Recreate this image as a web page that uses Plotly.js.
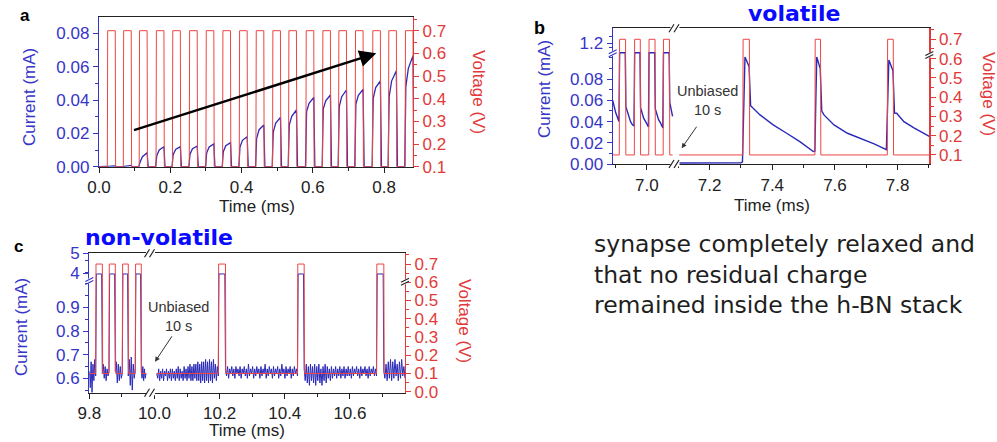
<!DOCTYPE html>
<html><head><meta charset="utf-8">
<script src="https://cdn.plot.ly/plotly-3.0.1.min.js"></script>
<style>html,body{margin:0;padding:0;background:#fff}#chart{width:997px;height:442px}</style>
</head><body><div id="chart"></div>
<script>
// ---------------- Panel a data ----------------
const aPulseOn = [0.0234,0.0682,0.1128,0.1600,0.2060,0.2533,0.3000,0.3467,0.3935,0.4402,0.4869,0.5318,0.5804,0.6271,0.6720,0.7187,0.7673,0.8121,0.8589];
const aPulseWidth = 0.0222;
const aStartI = [0,0,0.0025,0.0065,0.0072,0.0075,0.0082,0.0090,0.0118,0.0168,0.0208,0.0250,0.0330,0.0345,0.0360,0.0375,0.0410,0.0420,0.0480];
const aKneeI  = [0.0003,0.0004,0.0060,0.0100,0.0104,0.0108,0.0118,0.0126,0.0158,0.0222,0.0262,0.0302,0.0380,0.0395,0.0420,0.0428,0.0475,0.0515,0.0590];
const aPeakI  = [0.0005,0.0008,0.0084,0.0120,0.0120,0.0124,0.0136,0.0144,0.0180,0.0250,0.0296,0.0340,0.0416,0.0430,0.0460,0.0464,0.0514,0.0576,0.0666];
const aVLow = 0.1, aVHigh = 0.7;
const aTimeEnd = 0.881;

// ---------------- Panel b data ----------------
const bPulseOn  = [6.912,6.960,7.006,7.052,7.306,7.536,7.767];
const bPulseOff = [6.932,6.979,7.026,7.072,7.327,7.554,7.786];
const bSegStart = [6.891,7.103];
const bSegEnd   = [7.082,7.901];
const bVLow = 0.1, bVHigh = 0.7;
const bCurT = [6.891,6.896,6.901,6.906,6.911, 6.913,6.931, 6.933,6.937,6.942,6.948,6.954,6.959, 6.961,6.978, 6.980,6.984,6.990,6.996,7.001,7.005, 7.007,7.025, 7.027,7.031,7.037,7.043,7.048,7.051, 7.053,7.071, 7.073,7.077,7.082, null,
  7.103,7.150,7.200,7.250,7.300,7.305, 7.309,7.313,7.326,7.331,7.361,7.403,7.446,7.488,7.531,7.536,
  7.539,7.542,7.553,7.558,7.565,7.597,7.640,7.682,7.725,7.764,
  7.768,7.772,7.785,7.790,7.797,7.820,7.852,7.884,7.901];
const bCurI = [0.060,0.053,0.048,0.044,0.040, 0.105,0.105, 0.054,0.050,0.044,0.040,0.037,0.036, 0.105,0.105, 0.053,0.049,0.043,0.040,0.037,0.035, 0.105,0.105, 0.052,0.047,0.042,0.039,0.036,0.034, 0.105,0.105, 0.058,0.052,0.045, null,
  0.001,0.0012,0.001,0.0014,0.0012,0.002, 0.060,0.101,0.092,0.055,0.0463,0.0369,0.029,0.0211,0.0117,0.012,
  0.060,0.101,0.090,0.050,0.0463,0.0369,0.029,0.0243,0.0189,0.0135,
  0.060,0.098,0.088,0.048,0.0479,0.040,0.034,0.029,0.026];

// ---------------- Panel c data ----------------
const cPulseOn  = [9.8196,9.8604,9.9012,9.9411,10.196,10.439,10.6816];
const cPulseOff = [9.840,9.8798,9.9196,9.9595,10.218,10.4595,10.704];
const cSegStart = [9.800,10.007];
const cSegEnd   = [9.974,10.769];
const cVLow = 0.1, cVHigh = 0.7;
const cPlateauI = 1.042;   // 4 mA level drawn above the axis break
const cNoise1 = [0.63,0.56,0.67,0.54,0.66,0.59,0.68,0.61];
const cNoise2 = [0.62,0.66,0.60,0.65,0.59,0.64,0.61,0.63];
const cNoise3 = [0.63,0.67,0.58,0.66,0.59,0.65,0.60,0.62];
const cNoise4 = [0.61,0.68,0.57,0.69,0.55,0.66,0.60,0.64];
const cNoise5 = [0.63,0.60,0.65,0.59,0.64,0.60,0.62];
const cNoise6 = [0.62,0.60,0.64,0.59,0.63,0.60,0.64,0.59,0.63,0.61,0.64,0.59,0.63,0.60,0.64,0.59,0.64,0.60,0.63,0.59,0.64,0.60,0.65,0.59,0.64,0.60,0.63,0.59,0.65,0.60,0.64,0.59,0.65,0.60,0.66,0.59,0.65,0.59,0.66,0.60,0.66,0.59,0.67,0.59,0.66,0.58,0.67,0.59,0.67,0.58,0.68,0.59,0.67,0.58,0.68,0.59,0.67,0.58,0.68,0.60,0.66,0.59,0.65,0.61];
const cNoise7 = [0.64,0.61,0.65,0.60,0.64,0.62,0.65,0.61,0.64,0.60,0.65,0.62,0.64,0.61,0.65,0.60,0.64,0.62,0.65,0.61,0.64,0.60,0.66,0.61,0.64,0.62,0.65,0.60,0.64,0.61,0.65,0.62,0.64,0.60,0.65,0.61,0.64,0.62,0.66,0.60,0.64,0.61,0.65,0.62,0.64,0.60,0.65,0.61,0.64,0.62,0.65,0.60,0.64,0.61,0.66,0.62,0.64,0.60,0.65,0.61,0.64,0.62,0.65,0.60,0.64,0.61,0.65,0.62,0.64,0.61];
const cNoise8 = [0.64,0.59,0.66,0.58,0.65,0.57,0.66,0.59,0.65,0.58,0.66,0.57,0.65,0.59,0.66,0.58,0.64,0.57,0.65,0.59,0.66,0.58,0.65,0.60,0.64,0.59,0.65,0.60,0.64,0.61,0.65,0.60,0.64,0.61,0.65,0.60,0.64,0.61,0.65,0.60,0.64,0.61,0.65,0.61,0.64,0.60,0.65,0.61,0.64,0.62,0.65,0.61,0.64,0.60,0.65,0.61,0.64,0.62,0.65,0.61,0.64,0.60,0.65,0.61,0.64,0.62,0.65,0.61,0.64,0.61];
const cNoise9 = [0.63,0.60,0.66,0.59,0.67,0.60,0.68,0.59,0.67,0.60,0.68,0.61,0.66,0.59,0.67,0.60,0.68,0.61,0.65,0.60];
const cNoise = [cNoise1,cNoise2,cNoise3,cNoise4,cNoise5,cNoise6,cNoise7,cNoise8,cNoise9];

// ---------------- Tick labels ----------------
const bCurTickVals = [0,0.02,0.04,0.06,0.08,0.114];
const bCurTickText = ['0.00','0.02','0.04','0.06','0.08','1.2'];
const cCurTickVals = [0.6,0.7,0.8,0.9,1.044,1.129];
const cCurTickText = ['0.6','0.7','0.8','0.9','4','5'];

// ---------------- build traces ----------------
const EDGE = 0.001;
function pulseVoltage(segS, segE, ons, offs, lo, hi){
  const x=[], y=[];
  segS.forEach((s,k)=>{
    if(k>0){x.push(null);y.push(null);}
    x.push(s); y.push(lo);
    ons.forEach((on,i)=>{ if(on>=s && on<segE[k]){ x.push(on,on+EDGE,offs[i],offs[i]+EDGE); y.push(lo,hi,hi,lo);} });
    x.push(segE[k]); y.push(lo);
  });
  return {x,y};
}
const aVx=[0], aVy=[aVLow];
aPulseOn.forEach(on=>{ aVx.push(on,on+EDGE,on+aPulseWidth,on+aPulseWidth+EDGE); aVy.push(aVLow,aVHigh,aVHigh,aVLow); });
aVx.push(aTimeEnd); aVy.push(aVLow);
const aIx=[0], aIy=[0];
aPulseOn.forEach((on,i)=>{ const off=on+aPulseWidth; aIx.push(on-0.001,on+0.002,on+0.009,off,off+0.003); aIy.push(0,aStartI[i],aKneeI[i],aPeakI[i],0); });
aIx.push(aTimeEnd); aIy.push(0);

const bV = pulseVoltage(bSegStart,bSegEnd,bPulseOn,bPulseOff,bVLow,bVHigh);
const cV = pulseVoltage(cSegStart,cSegEnd,cPulseOn,cPulseOff,cVLow,cVHigh);

const cIx=[], cIy=[];
let nIdx=0;
cSegStart.forEach((s,k)=>{
  if(k>0){cIx.push(null);cIy.push(null);}
  const ons=[], offs=[];
  cPulseOn.forEach((on,i)=>{ if(on>=s && on<cSegEnd[k]){ons.push(on);offs.push(cPulseOff[i]);} });
  const starts=[s].concat(offs), ends=ons.concat([cSegEnd[k]]);
  starts.forEach((a,j)=>{
    const b=ends[j], arr=cNoise[nIdx++];
    arr.forEach((v,m)=>{ cIx.push(a+(b-a)*m/(arr.length-1)); cIy.push(v); });
    if(j<ons.length){ cIx.push(ons[j]+0.002, offs[j]-0.002); cIy.push(cPlateauI,cPlateauI); }
  });
});

const BLUE='#2a2ab8', RED='#ee4444', TBLUE='#3535c8', TRED='#e23a3a', DARK='#222';
const traces = [
  {x:aIx,y:aIy,xaxis:'x',yaxis:'y',mode:'lines',line:{color:BLUE,width:1.3},name:'Current a'},
  {x:aVx,y:aVy,xaxis:'x',yaxis:'y2',mode:'lines',line:{color:RED,width:1},name:'Voltage a'},
  {x:bCurT,y:bCurI,xaxis:'x2',yaxis:'y3',mode:'lines',line:{color:BLUE,width:1.4},connectgaps:false,name:'Current b'},
  {x:bV.x,y:bV.y,xaxis:'x2',yaxis:'y4',mode:'lines',line:{color:RED,width:1},connectgaps:false,name:'Voltage b'},
  {x:cIx,y:cIy,xaxis:'x3',yaxis:'y5',mode:'lines',line:{color:BLUE,width:1},connectgaps:false,name:'Current c'},
  {x:cV.x,y:cV.y,xaxis:'x3',yaxis:'y6',mode:'lines',line:{color:RED,width:1},connectgaps:false,name:'Voltage c'}
];

// ---------------- layout ----------------
const W=997,H=442;
const px=v=>v/W, py=v=>1-v/H;
const FONT='Liberation Sans, Arial, sans-serif';
const TICKSIZE=17, TITLESIZE=17;
function xAx(dom, anchor, range, tick0){
  return {domain:[px(dom[0]),px(dom[1])], anchor, range, tick0, dtick:0.2, tickmode:'linear', tickformat:'.1f',
    showline:true, linecolor:DARK, linewidth:1.2, mirror:true, ticks:'outside', ticklen:5, tickcolor:DARK,
    showgrid:false, zeroline:false, tickfont:{family:FONT,size:TICKSIZE,color:DARK},
    minor:{ticks:'outside',ticklen:3,tickcolor:DARK,dtick:0.1,tick0:tick0,showgrid:false}};
}
function yLeft(dom, anchor, range, extra){
  return Object.assign({domain:[py(dom[1]),py(dom[0])], anchor, range, side:'left',
    showline:true, linecolor:TBLUE, linewidth:1.2, ticks:'outside', ticklen:5, tickcolor:TBLUE,
    showgrid:false, zeroline:false, tickfont:{family:FONT,size:TICKSIZE,color:TBLUE}}, extra);
}
function yRight(overlay, anchor, range){
  return {overlaying:overlay, anchor, range, side:'right', tickmode:'linear', tick0:0, dtick:0.1,
    showline:true, linecolor:TRED, linewidth:1.2, ticks:'outside', ticklen:5, tickcolor:TRED,
    showgrid:false, zeroline:false, tickformat:'.1f', tickfont:{family:FONT,size:TICKSIZE,color:TRED},
    minor:{ticks:'outside',ticklen:3,tickcolor:TRED,dtick:0.05,tick0:0,showgrid:false}};
}
const A_X=[99,413], A_Y=[17.3,166.7];
const B_X=[612.7,929.3], B_Y=[28.3,164];
const C_X=[89.3,405], C_Y=[253.3,392.7];

function xBreak(xc,yc){
  return [
    {type:'rect',xref:'paper',yref:'paper',x0:px(xc-4.5),x1:px(xc+4.5),y0:py(yc+2.5),y1:py(yc-2.5),fillcolor:'#fff',line:{width:0}},
    {type:'line',xref:'paper',yref:'paper',x0:px(xc-6),y0:py(yc+4),x1:px(xc-1),y1:py(yc-4),line:{color:DARK,width:1.2}},
    {type:'line',xref:'paper',yref:'paper',x0:px(xc-1),y0:py(yc+4),x1:px(xc+4),y1:py(yc-4),line:{color:DARK,width:1.2}}
  ];
}
function yBreak(xc,yc,col){
  return [
    {type:'rect',xref:'paper',yref:'paper',x0:px(xc-2),x1:px(xc+2),y0:py(yc+2.5),y1:py(yc-2.5),fillcolor:'#fff',line:{width:0}},
    {type:'line',xref:'paper',yref:'paper',x0:px(xc-4),y0:py(yc+0.5),x1:px(xc+4),y1:py(yc-3.5),line:{color:col,width:1.2}},
    {type:'line',xref:'paper',yref:'paper',x0:px(xc-4),y0:py(yc+3.5),x1:px(xc+4),y1:py(yc-0.5),line:{color:col,width:1.2}}
  ];
}
const shapes = [].concat(
  xBreak(675,B_Y[0]), xBreak(675,B_Y[1]), yBreak(B_X[0],53.3,TBLUE), yBreak(B_X[1],55,DARK),
  xBreak(150.5,C_Y[0]), xBreak(150.5,C_Y[1]), yBreak(C_X[0],281,TBLUE), yBreak(C_X[1],281.7,DARK)
);

function txt(text,x,y,opt){
  return Object.assign({text, xref:'paper', yref:'paper', x:px(x), y:py(y), xanchor:'center', yanchor:'middle', showarrow:false,
    font:{family:FONT,size:TITLESIZE,color:DARK}}, opt||{});
}
const annotations = [
  // panel letters
  txt('<b>a</b>',25,16,{font:{family:FONT,size:17,color:'#000'}}),
  txt('<b>b</b>',539,28,{font:{family:FONT,size:18,color:'#000'}}),
  txt('<b>c</b>',18,246,{font:{family:FONT,size:17,color:'#000'}}),
  // axis titles
  txt('Current (mA)',29,97,{textangle:-90,font:{family:FONT,size:TITLESIZE,color:TBLUE}}),
  txt('Voltage (V)',479,92,{textangle:90,font:{family:FONT,size:TITLESIZE,color:TRED}}),
  txt('Time (ms)',257,206,{font:{family:FONT,size:TITLESIZE,color:DARK}}),
  txt('Current (mA)',545,89,{textangle:-90,font:{family:FONT,size:TITLESIZE,color:TBLUE}}),
  txt('Voltage (V)',989,94,{textangle:90,font:{family:FONT,size:TITLESIZE,color:TRED}}),
  txt('Time (ms)',772,205,{font:{family:FONT,size:TITLESIZE,color:DARK}}),
  txt('Current (mA)',21,327,{textangle:-90,font:{family:FONT,size:TITLESIZE,color:TBLUE}}),
  txt('Voltage (V)',465,321,{textangle:90,font:{family:FONT,size:TITLESIZE,color:TRED}}),
  txt('Time (ms)',247,430,{font:{family:FONT,size:TITLESIZE,color:DARK}}),
  // unbiased notes
  txt('Unbiased<br>10 s',707,101,{font:{family:FONT,size:14.5,color:'#333'}}),
  txt('Unbiased<br>10 s',178,316,{font:{family:FONT,size:14.5,color:'#333'}}),
  {text:'',xref:'x2',yref:'y3',x:7.111,y:0.0149,ax:16,ay:-23,showarrow:true,arrowhead:2,arrowsize:1,arrowwidth:1,arrowcolor:'#333'},
  {text:'',xref:'x3',yref:'y5',x:10.0015,y:0.670,ax:18,ay:-27,showarrow:true,arrowhead:2,arrowsize:1,arrowwidth:1,arrowcolor:'#333'},
  // big arrow panel a
  {text:'',xref:'x',yref:'y',axref:'x',ayref:'y',x:0.778,y:0.068,ax:0.094,ay:0.0216,showarrow:true,arrowhead:2,arrowsize:1.4,arrowwidth:2.4,arrowcolor:'#000'},
  // headings
  txt('<b>volatile</b>',794,0,{yanchor:'top',borderpad:0,font:{family:'DejaVu Sans, sans-serif',size:22,color:'#0a0aff'}}),
  txt('<b>non-volatile</b>',159,237,{font:{family:'DejaVu Sans, sans-serif',size:22,color:'#0a0aff'}}),
  txt('synapse completely relaxed and<br>that no residual charge<br>remained inside the h-BN stack',592,274,
    {xanchor:'left',align:'left',font:{family:'DejaVu Sans, sans-serif',size:23.5,color:'#1e1e1e'}})
];

const layout = {
  width:W, height:H, margin:{l:0,r:0,t:0,b:0}, paper_bgcolor:'#fff', plot_bgcolor:'rgba(0,0,0,0)',
  showlegend:false, font:{family:FONT,size:16,color:DARK},
  xaxis: xAx(A_X,'y',[0,aTimeEnd],0),
  yaxis: yLeft(A_Y,'x',[0,0.0896],{tickmode:'linear',tick0:0,dtick:0.02,tickformat:'.2f',
           minor:{ticks:'outside',ticklen:3,tickcolor:TBLUE,dtick:0.01,tick0:0,showgrid:false}}),
  yaxis2: yRight('y','x',[0.1,0.759]),
  xaxis2: xAx(B_X,'y3',[6.891,7.901],7.0),
  yaxis3: yLeft(B_Y,'x2',[0,0.128],{tickmode:'array',tickvals:bCurTickVals,ticktext:bCurTickText,
           minor:{ticks:'outside',ticklen:3,tickcolor:TBLUE,dtick:0.01,tick0:0,showgrid:false}}),
  yaxis4: yRight('y3','x2',[0.053,0.757]),
  xaxis3: xAx(C_X,'y5',[9.8,10.769],9.8),
  yaxis5: yLeft(C_Y,'x3',[0.539,1.1295],{tickmode:'array',tickvals:cCurTickVals,ticktext:cCurTickText,
           minor:{ticks:'outside',ticklen:3,tickcolor:TBLUE,dtick:0.05,tick0:0,showgrid:false}}),
  yaxis6: yRight('y5','x3',[-0.0055,0.759]),
  shapes, annotations
};
Plotly.newPlot('chart', traces, layout, {staticPlot:true, displayModeBar:false});
</script></body></html>
